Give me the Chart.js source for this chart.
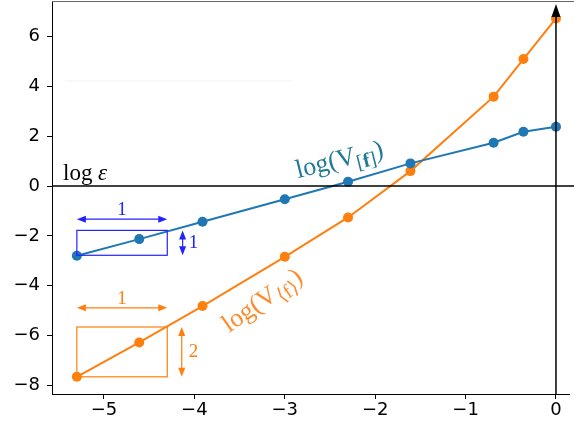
<!DOCTYPE html>
<html>
<head>
<meta charset="utf-8">
<script src="https://cdn.jsdelivr.net/npm/chart.js@4/dist/chart.umd.min.js"></script>
<style>
  body { margin: 0; background: #fff; }
  canvas { display: block; }
</style>
</head>
<body>
<canvas id="myChart" width="574" height="428"></canvas>
<script>
// log of the step size and the two log variances
const xValues = [-5.30, -4.61, -3.91, -3.00, -2.30, -1.61, -0.69, -0.36, 0];
const bracketValues = [-2.80, -2.13, -1.43, -0.53, 0.17, 0.91, 1.74, 2.18, 2.38];
const angleValues = [-7.66, -6.28, -4.82, -2.84, -1.26, 0.60, 3.59, 5.10, 6.73];
const xTicks = [-5, -4, -3, -2, -1, 0];
const yTicks = [-8, -6, -4, -2, 0, 2, 4, 6];

const blue = '#1f77b4';
const orange = '#ff7f0e';
const markBlue = '#2222ff';
const serif = '"Liberation Serif", "DejaVu Serif", serif';

function fmt(v) {
    return v < 0 ? '\u2212' + Math.abs(v) : '' + v;
}

function pts(ys) {
    return xValues.map((x, i) => ({ x: x, y: ys[i] }));
}

function noPad(s) {
    s.paddingTop = 0;
    s.paddingBottom = 0;
    s.paddingLeft = 0;
    s.paddingRight = 0;
}

function arrowHead(ctx, x, y, dx, dy, len, half) {
    // tip at (x,y), pointing along (dx,dy)
    ctx.beginPath();
    ctx.moveTo(x, y);
    ctx.lineTo(x - dx * len - dy * half, y - dy * len + dx * half);
    ctx.lineTo(x - dx * len + dy * half, y - dy * len - dx * half);
    ctx.closePath();
    ctx.fill();
}

function doubleArrow(ctx, x1, y1, x2, y2) {
    const d = Math.hypot(x2 - x1, y2 - y1);
    const dx = (x2 - x1) / d, dy = (y2 - y1) / d;
    ctx.beginPath();
    ctx.moveTo(x1 + dx * 4, y1 + dy * 4);
    ctx.lineTo(x2 - dx * 4, y2 - dy * 4);
    ctx.stroke();
    arrowHead(ctx, x2, y2, dx, dy, 9, 3.5);
    arrowHead(ctx, x1, y1, -dx, -dy, 9, 3.5);
}

function mathLabel(ctx, x, y, angle, color, parts) {
    ctx.save();
    ctx.translate(x, y);
    ctx.rotate(angle);
    ctx.fillStyle = color;
    ctx.textAlign = 'left';
    ctx.textBaseline = 'alphabetic';
    let cx = 0;
    parts.forEach(p => {
        ctx.font = (p.bold ? 'bold ' : '') + p.size + 'px ' + serif;
        ctx.fillText(p.t, cx, p.dy || 0);
        cx += ctx.measureText(p.t).width;
    });
    ctx.restore();
}

const overlay = {
    id: 'overlay',
    afterDatasetsDraw(chart) {
        const ctx = chart.ctx;
        const xs = chart.scales.x, ys = chart.scales.y;
        const area = chart.chartArea;
        const W = chart.width;
        const X = v => xs.getPixelForValue(v);
        const Y = v => ys.getPixelForValue(v);
        ctx.save();

        // frame: extend the left spine up and draw the top spine
        ctx.strokeStyle = '#000';
        ctx.lineWidth = 1;
        ctx.beginPath();
        ctx.moveTo(area.left + 0.5, area.top);
        ctx.lineTo(area.left + 0.5, 2);
        ctx.stroke();
        ctx.strokeStyle = '#666';
        ctx.beginPath();
        ctx.moveTo(area.left, 1.5);
        ctx.lineTo(W, 1.5);
        ctx.stroke();

        // faint leftover line
        ctx.strokeStyle = '#f3f3f3';
        ctx.beginPath();
        ctx.moveTo(65, Y(4.24) + 0.5);
        ctx.lineTo(292, Y(4.24) + 0.5);
        ctx.stroke();

        // log epsilon reference line
        ctx.strokeStyle = '#000';
        ctx.lineWidth = 1.5;
        ctx.beginPath();
        ctx.moveTo(area.left, Y(0));
        ctx.lineTo(W, Y(0));
        ctx.stroke();

        // vertical axis arrow at x = 0
        ctx.beginPath();
        ctx.moveTo(X(0), area.bottom);
        ctx.lineTo(X(0), 14);
        ctx.stroke();
        ctx.fillStyle = '#000';
        arrowHead(ctx, X(0), 4, 0, -1, 13, 4.5);

        ctx.font = '23px ' + serif;
        ctx.fillStyle = '#000';
        ctx.textAlign = 'left';
        ctx.textBaseline = 'alphabetic';
        ctx.fillText('log', 63, Y(0) - 6);
        ctx.font = 'italic 23px ' + serif;
        ctx.fillText('\u03b5', 98, Y(0) - 6);

        // slope boxes
        ctx.lineWidth = 1.2;
        ctx.strokeStyle = markBlue;
        ctx.fillStyle = markBlue;
        ctx.strokeRect(X(-5.30), Y(-1.78), X(-4.30) - X(-5.30), Y(-2.78) - Y(-1.78));
        doubleArrow(ctx, X(-5.30), Y(-1.33), X(-4.30), Y(-1.33));
        doubleArrow(ctx, X(-4.13), Y(-1.78), X(-4.13), Y(-2.78));
        ctx.font = '19px ' + serif;
        ctx.textAlign = 'center';
        ctx.fillText('1', X(-4.80), Y(-1.33) - 4);
        ctx.textAlign = 'left';
        ctx.textBaseline = 'middle';
        ctx.fillText('1', X(-4.13) + 6, Y(-2.28));

        ctx.strokeStyle = orange;
        ctx.fillStyle = orange;
        ctx.strokeRect(X(-5.30), Y(-5.66), X(-4.30) - X(-5.30), Y(-7.66) - Y(-5.66));
        doubleArrow(ctx, X(-5.30), Y(-4.89), X(-4.30), Y(-4.89));
        doubleArrow(ctx, X(-4.14), Y(-5.66), X(-4.14), Y(-7.66));
        ctx.textAlign = 'center';
        ctx.textBaseline = 'alphabetic';
        ctx.fillText('1', X(-4.80), Y(-4.89) - 4);
        ctx.textAlign = 'left';
        ctx.textBaseline = 'middle';
        ctx.fillText('2', X(-4.14) + 7, Y(-6.66));

        // series labels
        mathLabel(ctx, 298, 178, -14 * Math.PI / 180, '#217a96', [
            { t: 'log(V', size: 26 },
            { t: '[', size: 20, dy: 6 },
            { t: 'f', size: 20, dy: 6, bold: true },
            { t: ']', size: 20, dy: 6 },
            { t: ')', size: 26 }
        ]);
        mathLabel(ctx, 229, 333, -35 * Math.PI / 180, '#ff8a2a', [
            { t: 'log(V', size: 26 },
            { t: '\u27e8', size: 20, dy: 6 },
            { t: 'f', size: 20, dy: 6 },
            { t: '\u27e9', size: 20, dy: 6 },
            { t: ')', size: 26 }
        ]);

        ctx.restore();
    }
};

const tickFont = { family: '"DejaVu Sans", sans-serif', size: 18 };

new Chart(document.getElementById('myChart'), {
    type: 'scatter',
    data: {
        datasets: [{
            label: 'bracket',
            data: pts(bracketValues),
            showLine: true,
            borderColor: blue,
            backgroundColor: blue,
            borderWidth: 2,
            pointRadius: 5,
            pointBorderWidth: 0
        }, {
            label: 'angle',
            data: pts(angleValues),
            showLine: true,
            borderColor: orange,
            backgroundColor: orange,
            borderWidth: 2,
            pointRadius: 5,
            pointBorderWidth: 0
        }]
    },
    options: {
        responsive: false,
        animation: false,
        devicePixelRatio: 1,
        layout: { padding: 0 },
        plugins: { legend: { display: false }, tooltip: { enabled: false } },
        scales: {
            x: {
                type: 'linear',
                min: -5.575,
                max: 0.144,
                afterBuildTicks: s => { s.ticks = xTicks.map(v => ({ value: v })); },
                afterFit: s => { s.height = 34; noPad(s); },
                grid: { drawOnChartArea: false, tickLength: 5, color: '#000' },
                border: { color: '#000', width: 1 },
                ticks: { color: '#000', font: tickFont, padding: 1, callback: v => fmt(v) }
            },
            y: {
                type: 'linear',
                min: -8.35,
                max: 7.27,
                afterBuildTicks: s => { s.ticks = yTicks.map(v => ({ value: v })); },
                afterFit: s => { s.width = 52; noPad(s); },
                grid: { drawOnChartArea: false, tickLength: 5, color: '#000' },
                border: { color: '#000', width: 1 },
                ticks: { color: '#000', font: tickFont, padding: 7, callback: v => fmt(v) }
            }
        }
    },
    plugins: [overlay]
});
</script>
</body>
</html>
